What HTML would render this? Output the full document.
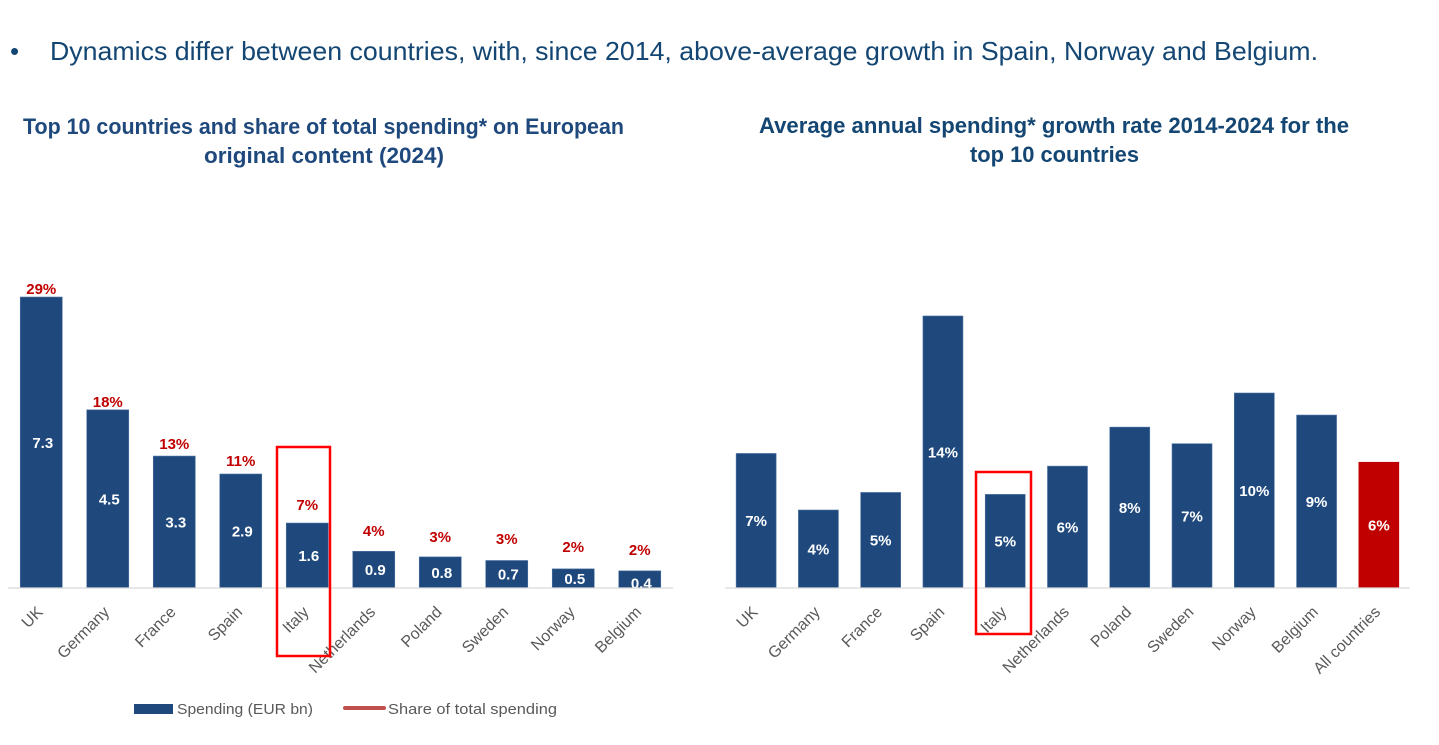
<!DOCTYPE html>
<html lang="en">
<head>
<meta charset="utf-8">
<title>European original content spending</title>
<style>
html,body{margin:0;padding:0;background:#fff;width:1439px;height:745px;overflow:hidden}
svg{display:block;font-family:"Liberation Sans",sans-serif}
</style>
</head>
<body>
<svg id="stage" width="1439" height="745" viewBox="0 0 1439 745">
  <text x="10" y="60" font-size="26" fill="#134672">•</text>
  <text x="50" y="60" font-size="26" fill="#134672" textLength="1268" lengthAdjust="spacingAndGlyphs">Dynamics differ between countries, with, since 2014, above-average growth in Spain, Norway and Belgium.</text>

  <text x="23" y="134" font-size="22" font-weight="700" fill="#1f497d" textLength="601" lengthAdjust="spacingAndGlyphs">Top 10 countries and share of total spending* on European</text>
  <text x="204" y="163" font-size="22" font-weight="700" fill="#1f497d" textLength="240" lengthAdjust="spacingAndGlyphs">original content (2024)</text>

  <text x="759" y="133" font-size="22" font-weight="700" fill="#134672" textLength="590" lengthAdjust="spacingAndGlyphs">Average annual spending* growth rate 2014-2024 for the</text>
  <text x="970" y="162" font-size="22" font-weight="700" fill="#134672" textLength="169" lengthAdjust="spacingAndGlyphs">top 10 countries</text>

  <defs>
    <clipPath id="left-plot-clip"><rect x="0" y="200" width="700" height="388"></rect></clipPath>
  </defs>

  <g id="left-chart"></g>
  <g id="right-chart"></g>

  <rect x="277" y="447" width="53" height="209" fill="none" stroke="#ff0000" stroke-width="2.5"></rect>
  <rect x="976" y="472" width="55" height="162" fill="none" stroke="#ff0000" stroke-width="2.5"></rect>

  <g>
    <rect x="134" y="704" width="39" height="10" fill="#1f497d"></rect>
    <text x="177" y="714" font-size="15" fill="#595959" textLength="136" lengthAdjust="spacingAndGlyphs">Spending (EUR bn)</text>
    <line x1="345" y1="708" x2="384" y2="708" stroke="#c0504d" stroke-width="4" stroke-linecap="round"></line>
    <text x="388" y="714" font-size="15" fill="#595959" textLength="169" lengthAdjust="spacingAndGlyphs">Share of total spending</text>
  </g>
</svg>

<script>
const leftCategories = ['UK','Germany','France','Spain','Italy','Netherlands','Poland','Sweden','Norway','Belgium'];
const spendingValues = [7.3,4.47,3.31,2.86,1.63,0.92,0.78,0.69,0.48,0.43];
const spendingLabels = ['7.3','4.5','3.3','2.9','1.6','0.9','0.8','0.7','0.5','0.4'];
const shareValues = [29.0,17.5,13.2,11.5,7.0,4.35,3.74,3.54,2.72,2.41];
const shareLabels = ['29%','18%','13%','11%','7%','4%','3%','3%','2%','2%'];

const rightCategories = ['UK','Germany','France','Spain','Italy','Netherlands','Poland','Sweden','Norway','Belgium','All countries'];
const growthValues = [6.9,4.0,4.9,13.95,4.8,6.25,8.25,7.4,10.0,8.87,6.45];
const growthLabels = ['7%','4%','5%','14%','5%','6%','8%','7%','10%','9%','6%'];

const SVG_NS = 'http://www.w3.org/2000/svg';
const BASE_Y = 588;

function make(parent, tag, attrs, content) {
  const el = document.createElementNS(SVG_NS, tag);
  Object.keys(attrs).forEach(function (k) { el.setAttribute(k, attrs[k]); });
  if (content !== undefined) el.textContent = content;
  parent.appendChild(el);
  return el;
}
function slug(s) { return s.toLowerCase().replace(/\s+/g, '-'); }

/* ---------- left chart axes ---------- */
const leftX = function (i) { return 8 + 66.5 * (i + 0.5); };
const spendY = function (v) { return BASE_Y - v * 39.86; };
const shareY = function (s) { return BASE_Y - (15.3 + 9.82 * s) + 6; };

/* ---------- right chart axes ---------- */
const rightX = function (i) { return 725 + 62.27 * (i + 0.5); };
const growthY = function (v) { return BASE_Y - v * 19.5; };

const leftG = document.getElementById('left-chart');
const rightG = document.getElementById('right-chart');

leftCategories.forEach(function (name, i) {
  const cx = leftX(i);
  const top = spendY(spendingValues[i]);
  const bar = make(leftG, 'rect', {x: cx - 21, y: top, width: 42, height: BASE_Y - top, fill: '#1f497d', stroke: '#4f74a3', 'stroke-width': 0.6});
  
  

  const height = BASE_Y - top;
  const labelY = height < 18 ? BASE_Y - 5 : (top + BASE_Y) / 2;
  const value = make(leftG, 'text', {x: cx + 1.5, y: labelY + 5.5, 'text-anchor': 'middle', 'font-size': 15, 'font-weight': 700, fill: '#fff', 'clip-path': 'url(#left-plot-clip)'}, spendingLabels[i]);
  
  

  const share = make(leftG, 'text', {x: cx, y: shareY(shareValues[i]), 'text-anchor': 'middle', 'font-size': 15, 'font-weight': 700, fill: '#c00000'}, shareLabels[i]);
  
  

  const tick = make(leftG, 'text', {transform: 'translate(' + (cx + 2.5) + ' 613) rotate(-45)', 'text-anchor': 'end', 'font-size': 16, fill: '#595959'}, name);
  
  
});

const leftAxis = make(leftG, 'line', {x1: 8, y1: BASE_Y, x2: 673, y2: BASE_Y, stroke: '#d9d9d9', 'stroke-width': 1.3});



rightCategories.forEach(function (name, i) {
  const cx = rightX(i);
  const top = growthY(growthValues[i]);
  const isTotal = name === 'All countries';
  const bar = make(rightG, 'rect', {x: cx - 20, y: top, width: 40, height: BASE_Y - top, fill: isTotal ? '#c00000' : '#1f497d', stroke: isTotal ? '#c00000' : '#4f74a3', 'stroke-width': 0.6});
  
  

  const value = make(rightG, 'text', {x: cx, y: (top + BASE_Y) / 2 + 5.5, 'text-anchor': 'middle', 'font-size': 15, 'font-weight': 700, fill: '#fff'}, growthLabels[i]);
  
  

  const tick = make(rightG, 'text', {transform: 'translate(' + (cx + 2.5) + ' 613) rotate(-45)', 'text-anchor': 'end', 'font-size': 16, fill: '#595959'}, name);
  
  
});

const rightAxis = make(rightG, 'line', {x1: 725, y1: BASE_Y, x2: 1410, y2: BASE_Y, stroke: '#d9d9d9', 'stroke-width': 1.3});


</script>
</body>
</html>
